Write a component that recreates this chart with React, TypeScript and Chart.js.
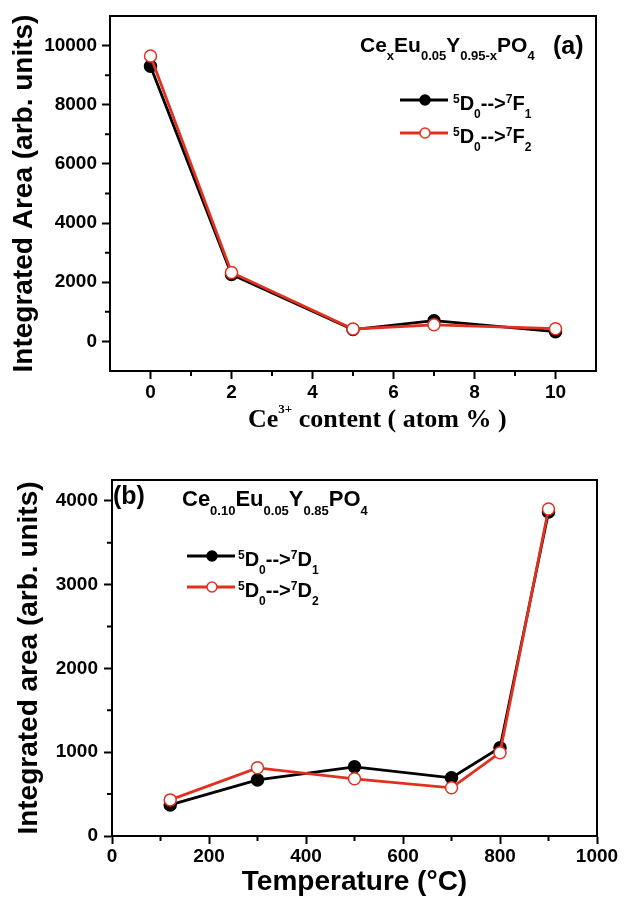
import React, { useEffect, useRef } from 'react';
import { Chart, registerables } from 'chart.js';

Chart.register(...registerables);

// ---------- data: panel (a) ----------
const ceContent = [0, 2, 5, 7, 10];
const areaF1 = [9300, 2260, 400, 700, 330];
const areaF2 = [9650, 2330, 420, 560, 430];
const topXTicks = [0, 2, 4, 6, 8, 10];
const topXMinor = [1, 3, 5, 7, 9];
const topYTicks = [0, 2000, 4000, 6000, 8000, 10000];
const topYMinor = [1000, 3000, 5000, 7000, 9000];

// ---------- data: panel (b) ----------
const temperature = [120, 300, 500, 700, 800, 900];
const areaD1 = [371, 670, 826, 695, 1054, 3868];
const areaD2 = [431, 814, 683, 575, 994, 3904];
const botXTicks = [0, 200, 400, 600, 800, 1000];
const botXMinor = [100, 300, 500, 700, 900];
const botYTicks = [0, 1000, 2000, 3000, 4000];
const botYMinor = [500, 1500, 2500, 3500];

// ---------- texts ----------
const topYTitle = 'Integrated Area (arb. units)';
const botYTitle = 'Integrated area (arb. units)';
const botXTitle = 'Temperature (°C)';

const FONT = '"Liberation Sans", Arial, Helvetica, sans-serif';
const SERIF = '"Liberation Serif", "Times New Roman", serif';
const RED = '#e2301f';

type Run = { t: string; s: number; dy?: number; f?: string };

const topXTitleRuns: Run[] = [
  { t: 'Ce', s: 26, f: SERIF },
  { t: '3+', s: 13, dy: -14, f: SERIF },
  { t: ' content ( atom % )', s: 26, f: SERIF },
];
const topFormula: Run[] = [
  { t: 'Ce', s: 21 }, { t: 'x', s: 13, dy: 8 },
  { t: 'Eu', s: 21 }, { t: '0.05', s: 13, dy: 8 },
  { t: 'Y', s: 21 }, { t: '0.95-x', s: 13, dy: 8 },
  { t: 'PO', s: 21 }, { t: '4', s: 13, dy: 8 },
];
const botFormula: Run[] = [
  { t: 'Ce', s: 22 }, { t: '0.10', s: 13, dy: 9 },
  { t: 'Eu', s: 22 }, { t: '0.05', s: 13, dy: 9 },
  { t: 'Y', s: 22 }, { t: '0.85', s: 13, dy: 9 },
  { t: 'PO', s: 22 }, { t: '4', s: 13, dy: 9 },
];
const legendLabel = (a: string, b: string, c: string, d: string, e: string): Run[] => [
  { t: a, s: 12, dy: -7 }, { t: 'D', s: 20 }, { t: b, s: 12, dy: 8 },
  { t: '-->', s: 20 }, { t: c, s: 12, dy: -7 }, { t: d, s: 20 }, { t: e, s: 12, dy: 8 },
];
const topLegend = [legendLabel('5', '0', '7', 'F', '1'), legendLabel('5', '0', '7', 'F', '2')];
const botLegend = [legendLabel('5', '0', '7', 'D', '1'), legendLabel('5', '0', '7', 'D', '2')];

function drawRuns(ctx: CanvasRenderingContext2D, x: number, y: number, runs: Run[]) {
  ctx.textAlign = 'left';
  ctx.textBaseline = 'alphabetic';
  ctx.fillStyle = '#000';
  for (const r of runs) {
    ctx.font = `bold ${r.s}px ${r.f || FONT}`;
    ctx.fillText(r.t, x, y + (r.dy || 0));
    x += ctx.measureText(r.t).width;
  }
  return x;
}

type Deco = {
  xMinor: number[];
  yMinor: number[];
  texts: { x: number; y: number; runs: Run[] }[];
  legend: { x0: number; x1: number; mx: number; tx: number; rows: number[]; labels: Run[][] };
};

function decoPlugin(d: Deco) {
  return {
    id: 'deco',
    afterDraw(chart: any) {
      const ctx: CanvasRenderingContext2D = chart.ctx;
      const a = chart.chartArea;
      const xs = chart.scales.x;
      const ys = chart.scales.y;
      ctx.save();
      ctx.strokeStyle = '#000';
      ctx.lineWidth = 2;
      ctx.strokeRect(a.left, a.top, a.right - a.left, a.bottom - a.top);
      ctx.beginPath();
      for (const v of d.xMinor) {
        const px = xs.getPixelForValue(v);
        ctx.moveTo(px, a.bottom);
        ctx.lineTo(px, a.bottom + 5);
      }
      for (const v of d.yMinor) {
        const py = ys.getPixelForValue(v);
        ctx.moveTo(a.left, py);
        ctx.lineTo(a.left - 5, py);
      }
      ctx.stroke();
      for (const t of d.texts) drawRuns(ctx, t.x, t.y, t.runs);
      const L = d.legend;
      chart.data.datasets.forEach((ds: any, i: number) => {
        const y = L.rows[i];
        ctx.strokeStyle = ds.borderColor;
        ctx.lineWidth = 2.8;
        ctx.beginPath();
        ctx.moveTo(L.x0, y);
        ctx.lineTo(L.x1, y);
        ctx.stroke();
        ctx.beginPath();
        ctx.arc(L.mx, y, 5, 0, Math.PI * 2);
        ctx.fillStyle = ds.pointBackgroundColor;
        ctx.fill();
        ctx.lineWidth = 1.5;
        ctx.strokeStyle = ds.pointBorderColor;
        ctx.stroke();
        drawRuns(ctx, L.tx, y + 10, L.labels[i]);
      });
      ctx.restore();
    },
  };
}

const tickFont = { family: FONT, size: 19, weight: 'bold' as const, lineHeight: 1 };

function scaleCfg(min: number, max: number, majors: number[], isX: boolean, size: number, pad: number, title: any) {
  return {
    type: 'linear' as const,
    min,
    max,
    afterBuildTicks: (scale: any) => {
      scale.ticks = majors.map((v) => ({ value: v }));
    },
    afterFit: (scale: any) => {
      if (isX) scale.height = size;
      else scale.width = size;
      scale.paddingLeft = 0;
      scale.paddingRight = 0;
      scale.paddingTop = 0;
      scale.paddingBottom = 0;
    },
    grid: { display: true, drawOnChartArea: false, drawTicks: true, tickLength: 8, tickWidth: 2, tickColor: '#000' },
    border: { display: true, color: '#000', width: 2 },
    ticks: {
      color: '#000',
      font: tickFont,
      padding: pad,
      autoSkip: false,
      maxRotation: 0,
      minRotation: 0,
      callback: (v: any) => String(v),
    },
    title,
  };
}

function series(xs: number[], ys: number[], black: boolean) {
  return {
    data: xs.map((x, i) => ({ x, y: ys[i] })),
    borderColor: black ? '#000' : RED,
    backgroundColor: black ? '#000' : '#fff',
    borderWidth: 2.8,
    pointRadius: 6,
    pointHoverRadius: 6,
    pointBackgroundColor: black ? '#000' : '#fff',
    pointBorderColor: black ? '#000' : RED,
    pointBorderWidth: 1.5,
    tension: 0,
    order: black ? 1 : 0,
  };
}

function buildTop(): any {
  return {
    type: 'line',
    data: { datasets: [series(ceContent, areaF1, true), series(ceContent, areaF2, false)] },
    options: {
      responsive: false,
      devicePixelRatio: 1,
      animation: false,
      layout: { padding: { left: 0, right: 28, top: 16, bottom: 0 } },
      plugins: { legend: { display: false }, tooltip: { enabled: false } },
      scales: {
        x: scaleCfg(-1, 11, topXTicks, true, 74, 4.5, { display: false }),
        y: scaleCfg(-1000, 11000, topYTicks, false, 110, 5, {
          display: true,
          text: topYTitle,
          color: '#000',
          font: { family: FONT, size: 28, weight: 'bold', lineHeight: 1 },
          padding: { top: 10, bottom: 0 },
        }),
      },
    },
    plugins: [
      decoPlugin({
        xMinor: topXMinor,
        yMinor: topYMinor,
        texts: [
          { x: 360, y: 52, runs: topFormula },
          { x: 553, y: 54, runs: [{ t: '(a)', s: 25 }] },
          { x: 248, y: 427, runs: topXTitleRuns },
        ],
        legend: { x0: 400, x1: 448, mx: 425, tx: 453, rows: [100, 133], labels: topLegend },
      }),
    ],
  };
}

function buildBottom(): any {
  return {
    type: 'line',
    data: { datasets: [series(temperature, areaD1, true), series(temperature, areaD2, false)] },
    options: {
      responsive: false,
      devicePixelRatio: 1,
      animation: false,
      layout: { padding: { left: 0, right: 27, top: 35, bottom: 0 } },
      plugins: { legend: { display: false }, tooltip: { enabled: false } },
      scales: {
        x: scaleCfg(0, 1000, botXTicks, true, 65, 3, {
          display: true,
          text: botXTitle,
          color: '#000',
          font: { family: FONT, size: 28, weight: 'bold', lineHeight: 1 },
          padding: { top: 0, bottom: 5 },
        }),
        y: scaleCfg(0, 4250, botYTicks, false, 112, 6, {
          display: true,
          text: botYTitle,
          color: '#000',
          font: { family: FONT, size: 28, weight: 'bold', lineHeight: 1 },
          padding: { top: 15, bottom: 0 },
        }),
      },
    },
    plugins: [
      decoPlugin({
        xMinor: botXMinor,
        yMinor: botYMinor,
        texts: [
          { x: 113, y: 59, runs: [{ t: '(b)', s: 25 }] },
          { x: 182, y: 61, runs: botFormula },
        ],
        legend: { x0: 187, x1: 235, mx: 212, tx: 238, rows: [111, 142], labels: botLegend },
      }),
    ],
  };
}

export default function App() {
  const topRef = useRef<HTMLCanvasElement>(null);
  const botRef = useRef<HTMLCanvasElement>(null);
  useEffect(() => {
    const c1 = new Chart(topRef.current as HTMLCanvasElement, buildTop());
    const c2 = new Chart(botRef.current as HTMLCanvasElement, buildBottom());
    return () => {
      c1.destroy();
      c2.destroy();
    };
  }, []);
  return (
    <div style={{ position: 'absolute', left: 0, top: 0, width: 624, height: 901, background: '#fff' }}>
      <canvas ref={topRef} width={624} height={445} style={{ display: 'block', width: 624, height: 445 }} />
      <canvas ref={botRef} width={624} height={456} style={{ display: 'block', width: 624, height: 456 }} />
    </div>
  );
}
